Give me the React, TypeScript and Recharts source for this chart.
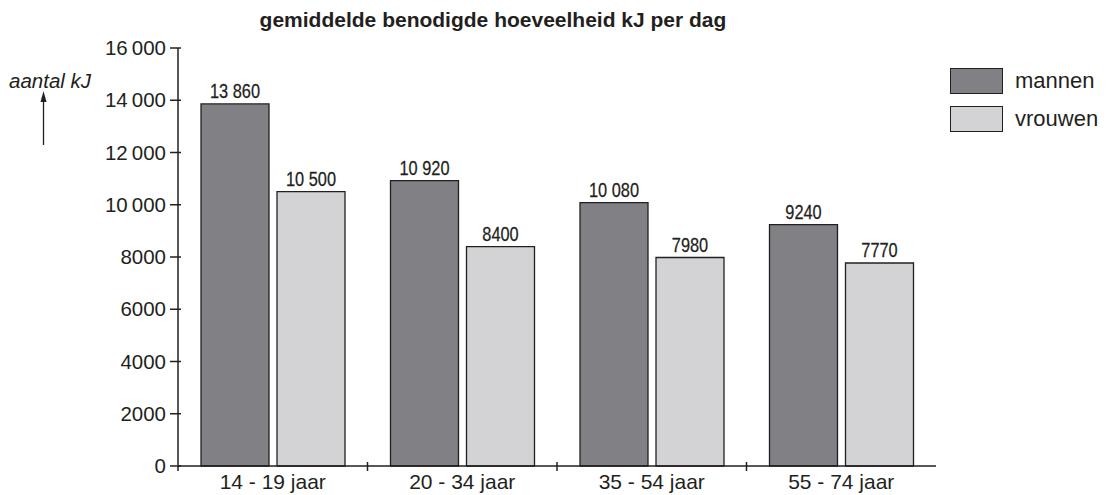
import React from 'react';
import { BarChart, Bar, XAxis, YAxis, LabelList } from 'recharts';

const categories = ['14 - 19 jaar', '20 - 34 jaar', '35 - 54 jaar', '55 - 74 jaar'];
const mannen = [13860, 10920, 10080, 9240];
const vrouwen = [10500, 8400, 7980, 7770];
const yTicks = [0, 2000, 4000, 6000, 8000, 10000, 12000, 14000, 16000];
const seriesNames = ['mannen', 'vrouwen'];
const title = 'gemiddelde benodigde hoeveelheid kJ per dag';
const yLabel = 'aantal kJ';

const data = categories.map((c, i) => ({ cat: c, mannen: mannen[i], vrouwen: vrouwen[i] }));

const W = 1112;
const H = 495;
const MARGIN = { top: 48, right: 176, bottom: 0, left: 0 };
const Y_W = 178;
const X_H = 29;
const BAND = (W - MARGIN.left - MARGIN.right - Y_W) / categories.length;

const FONT = '"Liberation Sans", Arial, Helvetica, sans-serif';
const INK = '#231f20';
const DARK = '#808085';
const LIGHT = '#d3d3d5';

const fmtY = (v: number) => {
  if (v >= 10000) {
    const s = String(v);
    return s.slice(0, s.length - 3) + '\u2009' + s.slice(s.length - 3);
  }
  return String(v);
};

const fmtBar = (v: any) => {
  const n = Number(v);
  if (n >= 10000) {
    const s = String(n);
    return s.slice(0, s.length - 3) + ' ' + s.slice(s.length - 3);
  }
  return String(n);
};

const YTick = (props: any) => {
  const { x, y, payload } = props;
  const axisX = x + 12;
  return (
    <g>
      <line x1={axisX - 8} x2={axisX + 3} y1={y} y2={y} stroke={INK} strokeWidth={1.5} />
      {payload.value === 0 && <line x1={axisX} x2={axisX} y1={y} y2={y + 5} stroke={INK} strokeWidth={1.5} />}
      <text x={x} y={y} dy={7} textAnchor="end" fontSize={20.5} fontFamily={FONT} fill={INK}>
        {fmtY(payload.value)}
      </text>
    </g>
  );
};

const XTick = (props: any) => {
  const { x, y, payload } = props;
  const axisY = y - 4;
  const idx = categories.indexOf(payload.value);
  return (
    <g>
      {idx < categories.length - 1 && (
        <line x1={x + BAND / 2} x2={x + BAND / 2} y1={axisY - 4} y2={axisY + 5} stroke={INK} strokeWidth={1.5} />
      )}
      <text x={x} y={axisY + 23} textAnchor="middle" fontSize={21} fontFamily={FONT} fill={INK}>
        {payload.value}
      </text>
    </g>
  );
};

const BarLabel = (props: any) => {
  const { x, y, width, value } = props;
  const cx = Number(x) + Number(width) / 2;
  const by = Number(y) - 6;
  return (
    <text
      transform={`translate(${cx},${by}) scale(0.84,1)`}
      x={0}
      y={0}
      textAnchor="middle"
      fontSize={19.5}
      fontFamily={FONT}
      fill={INK}
      stroke={INK}
      strokeWidth={0.25}
    >
      {fmtBar(value)}
    </text>
  );
};

const colors = [DARK, LIGHT];

export default function App() {
  return (
    <div style={{ position: 'absolute', left: 0, top: 0, width: W, height: H, background: '#fff' }}>
      <BarChart width={W} height={H} data={data} margin={MARGIN} barGap={8} barSize={68}>
        <text x={493} y={27} textAnchor="middle" fontSize={21} fontWeight="bold" fontFamily={FONT} fill={INK}>
          {title}
        </text>
        <text x={9} y={88} fontSize={20.5} fontStyle="italic" fontFamily={FONT} fill={INK}>
          {yLabel}
        </text>
        <line x1={43.5} x2={43.5} y1={145} y2={100} stroke={INK} strokeWidth={1.3} />
        <path d="M43.5,91 L40.5,102 L46.5,102 Z" fill={INK} />
        <XAxis
          dataKey="cat"
          height={X_H}
          tickLine={false}
          tickSize={4}
          tickMargin={0}
          axisLine={{ stroke: INK, strokeWidth: 1.5 }}
          tick={<XTick />}
          interval={0}
        />
        <YAxis
          width={Y_W}
          domain={[0, 16000]}
          ticks={yTicks}
          interval={0}
          tickLine={false}
          tickSize={8}
          tickMargin={4}
          axisLine={{ stroke: INK, strokeWidth: 1.5 }}
          tick={<YTick />}
        />
        <Bar dataKey="mannen" fill={DARK} stroke={INK} strokeWidth={1.3} isAnimationActive={false}>
          <LabelList dataKey="mannen" content={<BarLabel />} />
        </Bar>
        <Bar dataKey="vrouwen" fill={LIGHT} stroke={INK} strokeWidth={1.3} isAnimationActive={false}>
          <LabelList dataKey="vrouwen" content={<BarLabel />} />
        </Bar>
      </BarChart>
      {seriesNames.map((name, i) => (
        <div key={name} style={{ position: 'absolute', left: 950, top: 68 + i * 38, height: 26, display: 'flex', alignItems: 'center' }}>
          <div style={{ width: 53, height: 26, background: colors[i], border: `1.3px solid ${INK}`, boxSizing: 'border-box' }} />
          <span style={{ marginLeft: 12, fontFamily: FONT, fontSize: 22, color: INK, lineHeight: '26px' }}>{name}</span>
        </div>
      ))}
    </div>
  );
}
